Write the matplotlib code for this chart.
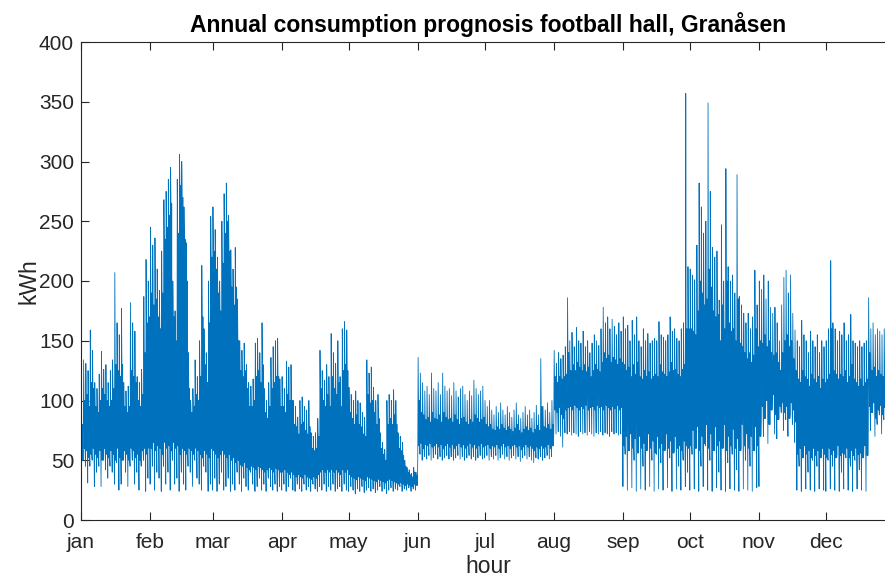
import numpy as np
import matplotlib
matplotlib.use("Agg")
import matplotlib.pyplot as plt

plt.rcParams['font.family'] = ['Liberation Sans', 'DejaVu Sans']

months = ['jan', 'feb', 'mar', 'apr', 'may', 'jun', 'jul', 'aug', 'sep', 'oct', 'nov', 'dec']
month_days = [31, 28, 31, 30, 31, 30, 31, 31, 30, 31, 30, 31]

# daily peak (kWh)
jan_hi = [80, 134, 131, 125, 159, 142, 115, 110, 122, 141, 126, 130, 115, 125, 134, 207,
          165, 155, 177, 115, 108, 112, 182, 165, 158, 120, 115, 126, 187, 218, 200]
feb_hi = [245, 230, 236, 210, 192, 225, 268, 275, 285, 295, 200, 175, 285, 306, 300, 262,
          232, 140, 100, 110, 134, 120, 150, 213, 160, 140, 200, 254]
mar_hi = [262, 243, 220, 200, 250, 273, 282, 255, 226, 210, 228, 185, 150, 142, 148, 130,
          115, 112, 118, 148, 152, 140, 165, 110, 100, 115, 136, 145, 150, 152, 118]
apr_hi = [120, 110, 133, 128, 130, 100, 95, 86, 100, 103, 95, 92, 100, 73, 70, 73,
          85, 142, 125, 117, 130, 120, 156, 140, 131, 150, 120, 160, 166, 159]
may_hi = [111, 105, 100, 108, 100, 98, 90, 86, 134, 123, 128, 111, 100, 105, 73, 65,
          59, 100, 105, 100, 109, 100, 73, 70, 65, 50, 44, 42, 39, 44, 40]
jun_hi = [136, 123, 115, 108, 112, 105, 123, 110, 108, 115, 105, 123, 112, 108, 110, 104,
          115, 108, 103, 110, 112, 105, 100, 108, 104, 117, 110, 105, 108, 112]
jul_hi = [100, 95, 100, 92, 88, 95, 90, 98, 92, 88, 95, 90, 86, 92, 98, 88,
          85, 90, 95, 88, 92, 85, 90, 96, 88, 135, 95, 92, 98, 90, 100]
aug_hi = [142, 131, 140, 135, 138, 145, 186, 150, 157, 145, 161, 150, 148, 158, 145, 150,
          140, 148, 155, 150, 146, 160, 178, 165, 170, 160, 168, 162, 155, 165, 158]
sep_hi = [170, 160, 163, 150, 167, 155, 170, 150, 145, 160, 150, 156, 148, 150, 152, 150,
          166, 155, 153, 150, 155, 170, 158, 160, 152, 150, 160, 165, 357, 212]
oct_hi = [210, 205, 201, 230, 282, 262, 240, 250, 349, 275, 228, 220, 225, 184, 247, 200,
          294, 212, 200, 205, 190, 289, 187, 180, 173, 165, 173, 160, 170, 209, 180]
nov_hi = [200, 193, 205, 185, 200, 178, 173, 178, 165, 150, 180, 203, 209, 190, 205, 173,
          159, 150, 145, 167, 155, 150, 140, 158, 150, 145, 155, 140, 150, 145]
dec_hi = [150, 160, 217, 165, 160, 150, 158, 155, 165, 150, 155, 172, 150, 148, 145, 150,
          145, 148, 150, 186, 160, 165, 155, 160, 158, 155, 160, 150, 155, 150, 145]

# daily minimum (kWh)
jan_lo = [0, 50, 45, 31, 45, 50, 28, 40, 45, 28, 50, 42, 35, 45, 40, 30,
          48, 25, 30, 50, 40, 28, 45, 50, 30, 40, 25, 45, 50, 24, 35]
feb_lo = [30, 45, 25, 40, 35, 24, 45, 30, 40, 25, 50, 30, 35, 24, 40, 30,
          25, 45, 40, 28, 50, 35, 30, 25, 45, 40, 24, 30]
mar_lo = [25, 35, 24, 30, 40, 25, 28, 35, 24, 30, 25, 40, 30, 24, 35, 28,
          25, 40, 30, 24, 28, 35, 25, 30, 24, 35, 28, 25, 30, 24, 28]
apr_lo = [25, 30, 24, 28, 35, 25, 24, 30, 26, 24, 30, 25, 28, 24, 30, 26,
          24, 28, 25, 30, 24, 28, 25, 30, 24, 26, 28, 24, 30, 25]
may_lo = [24, 28, 25, 22, 26, 24, 28, 23, 25, 27, 24, 26, 23, 25, 28, 24,
          26, 22, 25, 27, 24, 26, 25, 28, 24, 26, 25, 27, 24, 26, 25]
jun_lo = [52, 55, 50, 53, 51, 54, 50, 52, 55, 51, 53, 50, 52, 54, 51, 53,
          50, 52, 54, 51, 53, 50, 52, 54, 51, 53, 50, 52, 54, 51]
jul_lo = [52, 54, 50, 53, 51, 54, 50, 52, 55, 51, 53, 50, 52, 54, 51, 53,
          49, 52, 54, 51, 53, 50, 48, 52, 51, 53, 50, 52, 54, 51, 53]
aug_lo = [75, 72, 74, 70, 61, 73, 72, 74, 71, 73, 72, 70, 74, 72, 73, 71,
          74, 72, 70, 73, 72, 74, 71, 73, 72, 70, 74, 72, 73, 71, 72]
sep_lo = [28, 55, 25, 60, 27, 50, 24, 58, 26, 45, 25, 62, 28, 50, 24, 55,
          26, 48, 25, 60, 27, 52, 24, 58, 26, 45, 25, 50, 28, 40]
oct_lo = [25, 55, 26, 60, 24, 45, 28, 62, 25, 50, 24, 58, 27, 40, 25, 61,
          24, 48, 26, 55, 25, 42, 24, 60, 26, 50, 25, 45, 24, 58, 27]
nov_lo = [28, 85, 70, 95, 64, 80, 100, 72, 68, 85, 90, 75, 84, 70, 88, 80,
          65, 25, 45, 24, 55, 26, 40, 25, 50, 24, 45, 26, 55, 25]
dec_lo = [24, 50, 26, 45, 25, 55, 24, 40, 26, 52, 25, 45, 24, 50, 26, 42,
          25, 55, 24, 85, 75, 90, 70, 80, 88, 72, 84, 78, 90, 74, 82]

# upper edge of the dense part of each day (kWh)
jan_top = [80, 100, 105, 95, 115, 110, 95, 90, 100, 110, 105, 100, 95, 100, 110, 130,
           125, 120, 130, 95, 90, 95, 125, 120, 115, 100, 95, 105, 140, 165, 170]
feb_top = [190, 180, 185, 170, 160, 190, 235, 245, 255, 265, 170, 150, 240, 280, 270, 235,
           200, 110, 90, 95, 105, 100, 120, 170, 130, 115, 165, 220]
mar_top = [225, 210, 190, 175, 215, 240, 250, 225, 195, 180, 195, 150, 125, 120, 125, 110,
           95, 95, 100, 120, 125, 115, 130, 90, 85, 95, 110, 115, 120, 120, 95]
apr_top = [95, 90, 105, 100, 100, 80, 78, 72, 80, 82, 75, 72, 78, 60, 58, 60,
           70, 110, 100, 95, 105, 95, 120, 110, 105, 115, 95, 125, 130, 125]
may_top = [90, 85, 80, 88, 80, 78, 72, 70, 105, 98, 100, 90, 80, 85, 60, 55,
           50, 80, 85, 80, 88, 80, 60, 58, 54, 45, 40, 38, 36, 40, 37]
jun_top = [100, 90, 88, 84, 86, 82, 90, 85, 84, 88, 82, 90, 86, 84, 85, 82,
           88, 84, 80, 85, 86, 82, 80, 84, 82, 88, 85, 82, 84, 86]
jul_top = [80, 78, 80, 76, 75, 78, 76, 80, 77, 75, 78, 76, 74, 77, 80, 75,
           73, 76, 78, 75, 77, 73, 76, 79, 75, 95, 78, 77, 80, 76, 80]
aug_top = [120, 115, 120, 118, 120, 122, 140, 125, 130, 125, 132, 128, 125, 130, 124, 128,
           120, 125, 130, 126, 124, 132, 140, 135, 138, 132, 136, 134, 130, 135, 132]
sep_top = [130, 125, 128, 120, 130, 122, 132, 120, 118, 125, 120, 124, 118, 120, 122, 120,
           130, 124, 122, 120, 124, 132, 125, 126, 122, 120, 126, 130, 160, 160]
oct_top = [160, 158, 155, 175, 200, 190, 180, 185, 210, 195, 175, 170, 172, 150, 180, 160,
           200, 165, 158, 160, 150, 185, 148, 145, 140, 135, 140, 132, 138, 160, 145]
nov_top = [150, 148, 155, 145, 150, 140, 138, 140, 132, 125, 140, 150, 155, 145, 150, 135,
           125, 118, 115, 125, 120, 118, 112, 122, 118, 115, 120, 110, 118, 115]
dec_top = [118, 122, 160, 125, 122, 118, 122, 120, 125, 115, 120, 130, 118, 115, 112, 118,
           112, 115, 118, 140, 125, 128, 120, 125, 122, 120, 125, 118, 120, 118, 115]

# lower edge of the dense part of each day (kWh)
jan_base = [50, 60, 58, 52, 55, 60, 55, 52, 58, 50, 60, 55, 52, 58, 55, 50,
            60, 52, 50, 58, 55, 50, 60, 58, 52, 55, 50, 58, 60, 55, 60]
feb_base = [60, 65, 58, 62, 60, 55, 65, 60, 62, 58, 65, 60, 62, 55, 60, 58,
            55, 60, 58, 55, 60, 58, 55, 52, 58, 55, 52, 60]
mar_base = [58, 55, 52, 55, 58, 55, 52, 55, 50, 52, 48, 50, 46, 45, 48, 44,
            42, 45, 44, 42, 45, 44, 42, 40, 42, 44, 42, 40, 43, 42, 40]
apr_base = [40, 42, 40, 38, 40, 38, 36, 38, 36, 35, 38, 36, 35, 34, 36, 35,
            38, 40, 42, 40, 42, 40, 42, 40, 42, 40, 38, 42, 40, 42]
may_base = [38, 36, 35, 34, 36, 35, 34, 33, 36, 35, 34, 33, 32, 34, 33, 32,
            31, 33, 34, 33, 32, 31, 30, 31, 30, 29, 30, 29, 28, 30, 29]
jun_base = [62, 64, 60, 63, 62, 64, 61, 62, 64, 61, 63, 60, 62, 64, 61, 63,
            60, 62, 64, 61, 63, 60, 62, 64, 61, 63, 60, 62, 64, 61]
jul_base = [62, 63, 60, 62, 61, 63, 60, 62, 64, 61, 62, 60, 62, 63, 61, 62,
            59, 61, 63, 61, 62, 60, 58, 61, 60, 62, 60, 61, 63, 60, 62]
aug_base = [92, 90, 94, 88, 85, 92, 94, 95, 92, 96, 94, 92, 95, 93, 96, 92,
            94, 95, 92, 96, 94, 95, 92, 96, 94, 92, 95, 93, 96, 92, 94]
sep_base = [62, 70, 58, 72, 60, 68, 56, 70, 60, 64, 58, 72, 60, 66, 56, 70,
            60, 64, 58, 72, 60, 66, 56, 70, 60, 62, 58, 66, 62, 60]
oct_base = [62, 75, 60, 78, 58, 70, 64, 80, 60, 72, 58, 78, 62, 66, 60, 80,
            58, 70, 62, 76, 60, 68, 58, 80, 62, 72, 60, 70, 58, 78, 62]
nov_base = [70, 95, 85, 100, 80, 92, 105, 88, 84, 95, 98, 90, 95, 85, 98, 92,
            82, 55, 60, 52, 62, 55, 58, 52, 60, 54, 58, 52, 60, 55]
dec_base = [52, 60, 55, 58, 52, 62, 54, 56, 55, 60, 52, 58, 54, 60, 55, 56,
            52, 62, 54, 95, 90, 98, 85, 92, 96, 88, 94, 90, 98, 88, 92]

hi = np.array(jan_hi + feb_hi + mar_hi + apr_hi + may_hi + jun_hi +
              jul_hi + aug_hi + sep_hi + oct_hi + nov_hi + dec_hi, dtype=float)
lo = np.array(jan_lo + feb_lo + mar_lo + apr_lo + may_lo + jun_lo +
              jul_lo + aug_lo + sep_lo + oct_lo + nov_lo + dec_lo, dtype=float)
top = np.array(jan_top + feb_top + mar_top + apr_top + may_top + jun_top +
               jul_top + aug_top + sep_top + oct_top + nov_top + dec_top, dtype=float)
base = np.array(jan_base + feb_base + mar_base + apr_base + may_base + jun_base +
                jul_base + aug_base + sep_base + oct_base + nov_base + dec_base, dtype=float)

base = np.clip(base, lo, hi)
top = np.clip(top, base, hi)

# six samples per day: min, peak, then the dense band
y = np.column_stack([lo, hi, top, base, top, base]).ravel()
x = np.arange(len(y)) * 4

fig = plt.figure(figsize=(8.85, 5.79), dpi=100)
ax = fig.add_axes([81 / 885, 59 / 579, (895 - 81) / 885, 478 / 579])
ax.plot(x, y, color='#0072BD', linewidth=0.6)

ax.set_xlim(0, 8760)
ax.set_ylim(0, 400)
month_start = np.concatenate([[0], np.cumsum(month_days)[:-1]]) * 24
ax.set_xticks(month_start)
ax.set_xticklabels(months)
ax.set_yticks(np.arange(0, 401, 50))

ax.tick_params(direction='in', length=6, width=0.8, top=True, right=True,
               labelsize=15, colors='#262626')
ax.tick_params(axis='x', pad=9)
ax.tick_params(axis='y', pad=5)
for s in ax.spines.values():
    s.set_color('#262626')
    s.set_linewidth(0.8)

ax.set_xlabel('hour', fontsize=16.5, color='#262626', labelpad=2.5)
ax.set_ylabel('kWh', fontsize=16.5, color='#262626', labelpad=-1)
ax.set_title('Annual consumption prognosis football hall, Granåsen',
             fontsize=16.5, fontweight='bold', pad=7)

fig.savefig('out.png', dpi=100)
